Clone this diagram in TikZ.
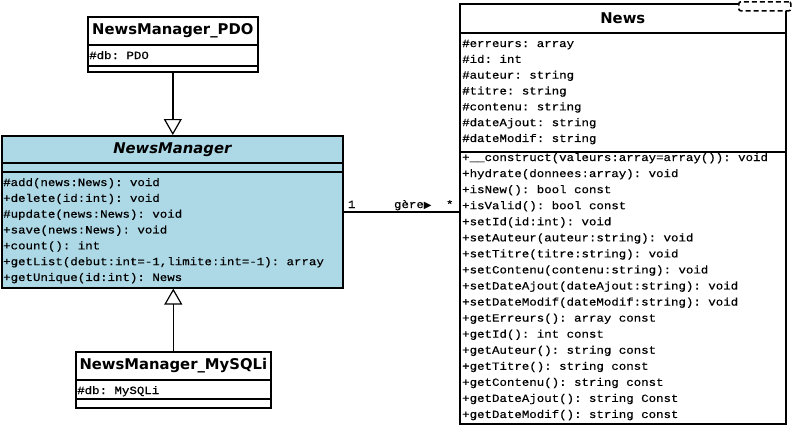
\documentclass[tikz,border=0pt]{standalone}
\usepackage{fontspec}
\setmainfont{DejaVu Sans}
\setmonofont[FakeBold=0.5, FakeStretch=1.13]{Liberation Mono}
\newfontfamily\symfont{DejaVu Sans}
\usepackage{tikz}
\usetikzlibrary{arrows.meta}
\definecolor{classblue}{RGB}{173,216,230}
\tikzset{
  part/.style args={#1x#2}{draw, line width=1.6pt, inner sep=0pt, anchor=north west,
    minimum width=#1pt, minimum height=#2pt},
  title/.style={font=\fontsize{14.8}{15}\selectfont\bfseries},
  member/.style={anchor=base west, inner sep=0pt,
    font=\fontsize{11}{11}\selectfont\ttfamily},
  inherit/.style={line width=1.6pt, -{Triangle[open, width=18pt, length=16pt, line width=1.2pt]}},
  assoc/.style={line width=1.6pt},
  tpl/.style={draw, dash pattern=on 5pt off 3pt, line width=1.6pt, fill=white, rounded corners=2pt,
    anchor=north west, minimum width=52pt, minimum height=9pt, inner sep=0pt}
}

\begin{document}
\begin{tikzpicture}[x=1pt, y=-1pt]
\useasboundingbox[fill=white] (0,0) rectangle (795,426);
\node[part=170x28, title] (pdo) at (87,16) {NewsManager\_PDO};
\node[part=170x21] (pdoattr) at (87,44) {};
\node[part=170x6] (pdoops) at (87,65) {};
\node[member] (pdodb) at (89,59) {\#db: PDO};

\node[part=341x27, title, fill=classblue, font=\fontsize{14.8}{15}\selectfont\bfseries\itshape] (nm) at (1,135) {NewsManager};
\node[part=341x9, fill=classblue] (nmattr) at (1,162) {};
\node[part=341x116, fill=classblue] (nmops) at (1,171) {};
\foreach \txt [count=\i] in {\#add(news:News): void, +delete(id:int): void,
  \#update(news:News): void, +save(news:News): void, +count(): int,
  {+getList(debut:int=-1,limite:int=-1): array}, +getUnique(id:int): News} {
 \node[member] (nmop\i) at (3,{186+15.83*(\i-1)}) {\txt};
}

\node[part=195x28, title] (my) at (75,351) {NewsManager\_MySQLi};
\node[part=195x19] (myattr) at (75,379) {};
\node[part=195x9] (myops) at (75,398) {};
\node[member] (mydb) at (77,394) {\#db: MySQLi};

\node[part=326x29, title] (news) at (459,3) {News};
\node[part=326x119] (newsattr) at (459,32) {};
\node[part=326x272] (newsops) at (459,151) {};
\node[tpl] (tpl) at (738,1) {};
\foreach \txt [count=\i] in {\#erreurs: array, \#id: int, \#auteur: string, \#titre: string,
  \#contenu: string, \#dateAjout: string, \#dateModif: string} {
 \node[member] (newsattr\i) at (462,{47+15.83*(\i-1)}) {\txt};
}
\foreach \txt [count=\i] in {+\_\_construct(valeurs:array=array()): void,
  +hydrate(donnees:array): void, +isNew(): bool const, +isValid(): bool const,
  +setId(id:int): void, +setAuteur(auteur:string): void, +setTitre(titre:string): void,
  +setContenu(contenu:string): void, +setDateAjout(dateAjout:string): void,
  +setDateModif(dateModif:string): void, +getErreurs(): array const, +getId(): int const,
  +getAuteur(): string const, +getTitre(): string const, +getContenu(): string const,
  +getDateAjout(): string Const, +getDateModif(): string const} {
 \node[member] (newsop\i) at (462,{161+16.06*(\i-1)}) {\txt};
}

\draw[inherit] (pdoops.south) -- (pdoops.south |- nm.north);
\draw[inherit] (my.north) -- (my.north |- nmops.south);
\coordinate (gere) at (0,212);
\draw[assoc] (nmops.east |- gere) -- (newsops.west |- gere)
  node[member, anchor=base, pos=0.07, yshift=4pt] (one) {1}
  node[member, anchor=base, pos=0.6, yshift=4pt] (label) {gère{\symfont\fontsize{10}{10}\selectfont ▶}}
  node[member, anchor=base, pos=0.92, yshift=4pt] (many) {*};
\end{tikzpicture}
\end{document}
